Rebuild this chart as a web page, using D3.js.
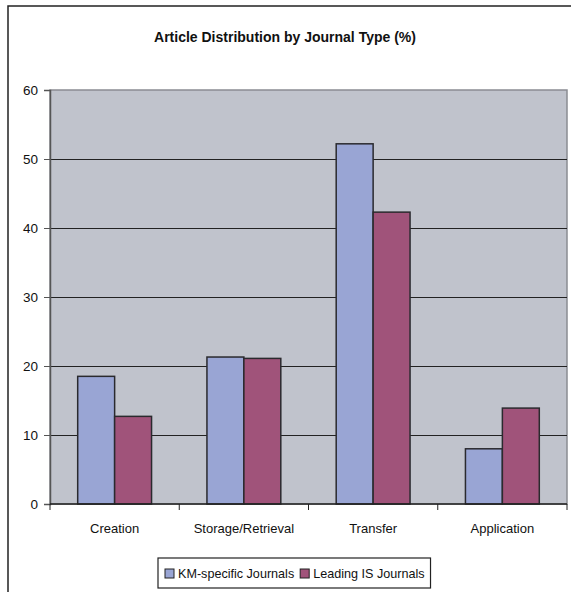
<!DOCTYPE html>
<html>
<head>
<meta charset="utf-8">
<script src="https://cdn.jsdelivr.net/npm/d3@7"></script>
<style>
  body { margin: 0; background: #fff; }
  text { font-family: "Liberation Sans", Arial, sans-serif; fill: #111; }
</style>
</head>
<body>
<div id="chart"></div>
<script>
const categories = ['Creation', 'Storage/Retrieval', 'Transfer', 'Application'];
const seriesNames = ['KM-specific Journals', 'Leading IS Journals'];
const kmValues = [18.5, 21.3, 52.2, 8.0];
const isValues = [12.7, 21.1, 42.3, 13.9];
const yTicks = [0, 10, 20, 30, 40, 50, 60];
const colors = ['#99A5D4', '#A0537A'];

const width = 571;
const height = 592;
const margin = { top: 90, left: 50, right: 4, bottom: 88 };
const plotW = width - margin.left - margin.right;
const plotH = height - margin.top - margin.bottom;

const svg = d3.select('#chart').append('svg').attr('width', width).attr('height', height);

// outer chart border (cropped on right/bottom like the reference)
svg.append('rect')
  .attr('x', 8).attr('y', 6)
  .attr('width', 600).attr('height', 620)
  .attr('fill', 'none').attr('stroke', '#222').attr('stroke-width', 1.5);

svg.append('text')
  .attr('x', 285).attr('y', 42)
  .attr('text-anchor', 'middle')
  .style('font-size', '14px').style('font-weight', 'bold')
  .text('Article Distribution by Journal Type (%)');

const chart = svg.append('g').attr('transform', `translate(${margin.left},${margin.top})`);

const x0 = d3.scaleBand().domain(categories).range([0, plotW]).paddingInner(0).paddingOuter(0);
const barW = x0.bandwidth() / 3.5;
const y = d3.scaleLinear().domain([0, 60]).range([plotH, 0]);

chart.append('rect')
  .attr('width', plotW).attr('height', plotH)
  .attr('fill', '#C0C3CC')
  .attr('stroke', '#8a8c92').attr('stroke-width', 1.5);

// gridlines
chart.append('g')
  .call(d3.axisLeft(y).tickValues(yTicks.slice(1, -1)).tickSize(-plotW).tickFormat(''))
  .call(g => g.select('.domain').remove())
  .selectAll('line').attr('stroke', '#222').attr('stroke-width', 1.2);

const data = categories.map((c, i) => ({ cat: c, vals: [kmValues[i], isValues[i]] }));

const groups = chart.selectAll('.grp').data(data).enter().append('g')
  .attr('transform', d => `translate(${x0(d.cat) + x0.bandwidth() / 2 - barW},0)`);

groups.selectAll('rect').data(d => d.vals).enter().append('rect')
  .attr('x', (d, i) => i * barW)
  .attr('y', d => y(d))
  .attr('width', barW)
  .attr('height', d => plotH - y(d))
  .attr('fill', (d, i) => colors[i])
  .attr('stroke', '#2a2a2e').attr('stroke-width', 1.5);

// y axis
const yAxis = chart.append('g')
  .call(d3.axisLeft(y).tickValues(yTicks).tickSize(6).tickPadding(6));
yAxis.select('.domain').attr('stroke', '#555').attr('stroke-width', 1.5);
yAxis.selectAll('line').attr('stroke', '#555');
yAxis.selectAll('text').style('font-size', '13.5px').attr('fill', '#111');

// x axis
const xAxis = chart.append('g').attr('transform', `translate(0,${plotH})`);
xAxis.append('line').attr('x1', 0).attr('x2', plotW).attr('stroke', '#222').attr('stroke-width', 1.5);
xAxis.selectAll('.tk').data(d3.range(categories.length + 1)).enter().append('line')
  .attr('x1', i => i * x0.step()).attr('x2', i => i * x0.step())
  .attr('y1', 0).attr('y2', 6).attr('stroke', '#222');
xAxis.selectAll('.lbl').data(categories).enter().append('text')
  .attr('x', d => x0(d) + x0.bandwidth() / 2)
  .attr('y', 29)
  .attr('text-anchor', 'middle')
  .style('font-size', '13px')
  .text(d => d);

// legend
const legend = svg.append('g').attr('transform', 'translate(158,558)');
const legendBox = legend.append('rect')
  .attr('height', 30).attr('fill', '#fff').attr('stroke', '#222').attr('stroke-width', 1.2);
let lx = 7;
seriesNames.forEach((name, i) => {
  legend.append('rect')
    .attr('x', lx).attr('y', 11).attr('width', 9).attr('height', 9)
    .attr('fill', colors[i]).attr('stroke', '#222').attr('stroke-width', 1);
  const t = legend.append('text')
    .attr('x', lx + 13).attr('y', 20)
    .style('font-size', '12.6px')
    .text(name);
  lx += 13 + t.node().getComputedTextLength() + 6;
});
legendBox.attr('width', lx);
</script>
</body>
</html>
